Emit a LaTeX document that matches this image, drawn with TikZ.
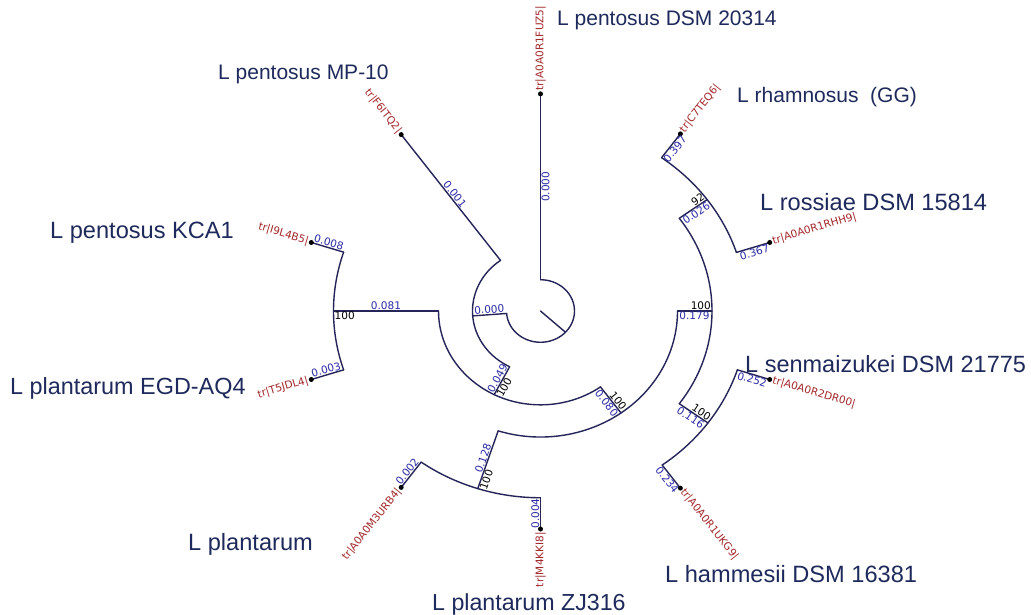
\documentclass[tikz,border=0pt]{standalone}
\usepackage{fontspec}
\setmainfont{Liberation Sans}
\newfontfamily\dejavu{DejaVu Sans}
\definecolor{navy}{HTML}{1F2A5C}
\definecolor{branch}{HTML}{25255A}
\definecolor{distblue}{HTML}{2B2BA6}
\definecolor{trred}{HTML}{A3282B}
\tikzset{
  br/.style={draw=branch, line width=1.4pt, line cap=round},
  species/.style={anchor=base west, inner sep=0pt, text=navy, font=\fontsize{#1}{#1}\selectfont},
  species/.default=23,
  dist/.style={inner sep=1pt, text=distblue, font=\dejavu\fontsize{10.5}{10.5}\selectfont},
  supp/.style={inner sep=1pt, text=black, font=\dejavu\fontsize{10.5}{10.5}\selectfont},
  trlab/.style={inner sep=3pt, text=trred, font=\dejavu\fontsize{10.5}{10.5}\selectfont},
  leafdot/.style={circle, fill=black, inner sep=0pt, minimum size=5pt},
}
\begin{document}
\begin{tikzpicture}[x=1pt,y=1pt]
\useasboundingbox (0,0) rectangle (1031,614);
\fill[white] (0,0) rectangle (1031,614);
\begin{scope}[shift={(540.5,303)}, yscale=0.92]
% ---- node coordinates
\coordinate (root) at (0,0);
\coordinate (rootpos) at (317.25:34);
\coordinate (rA) at (184.5:34);
\coordinate (rL1) at (90:34);
\coordinate (A) at (184.5:68);
\coordinate (aL2) at (126:68);
\coordinate (aB) at (243:68);
\coordinate (B) at (243:102);
\coordinate (bC) at (180:102);
\coordinate (bD) at (306:102);
\coordinate (C) at (180:207);
\coordinate (cK) at (162:207);
\coordinate (cE) at (198:207);
\coordinate (D) at (306:137);
\coordinate (dE) at (252:137);
\coordinate (dF) at (360:137);
\coordinate (E) at (252:203);
\coordinate (eP) at (234:203);
\coordinate (eZ) at (270:203);
\coordinate (F) at (360:171.5);
\coordinate (fG) at (324:171.5);
\coordinate (fH) at (396:171.5);
\coordinate (G) at (324:207);
\coordinate (gHa) at (306:207);
\coordinate (gS) at (342:207);
\coordinate (H) at (396:206);
\coordinate (hR) at (18:206);
\coordinate (hG) at (54:206);
% leaves
\coordinate (L1) at (90:236);
\coordinate (L2) at (126:237);
\coordinate (L3) at (162:241);
\coordinate (L4) at (198:241);
\coordinate (L5) at (234:237);
\coordinate (L6) at (270:237);
\coordinate (L7) at (306:238);
\coordinate (L8) at (342:241);
\coordinate (L9) at (18:241);
\coordinate (L10) at (54:238);
% ---- branches
\draw[br] (root) -- (rootpos);
\draw[br] (rA) arc[start angle=184.5, end angle=450, radius=34pt];
\draw[br] (rL1) -- (L1);
\draw[br] (rA) -- (A);
\draw[br] (aL2) arc[start angle=126, end angle=243, radius=68pt];
\draw[br] (aL2) -- (L2);
\draw[br] (aB) -- (B);
\draw[br] (bC) arc[start angle=180, end angle=306, radius=102pt];
\draw[br] (bC) -- (C);
\draw[br] (cK) arc[start angle=162, end angle=198, radius=207pt];
\draw[br] (cK) -- (L3);
\draw[br] (cE) -- (L4);
\draw[br] (bD) -- (D);
\draw[br] (dE) arc[start angle=252, end angle=360, radius=137pt];
\draw[br] (dE) -- (E);
\draw[br] (eP) arc[start angle=234, end angle=270, radius=203pt];
\draw[br] (eP) -- (L5);
\draw[br] (eZ) -- (L6);
\draw[br] (dF) -- (F);
\draw[br] (fG) arc[start angle=324, end angle=396, radius=171.5pt];
\draw[br] (fG) -- (G);
\draw[br] (gHa) arc[start angle=306, end angle=342, radius=207pt];
\draw[br] (gHa) -- (L7);
\draw[br] (gS) -- (L8);
\draw[br] (fH) -- (H);
\draw[br] (hR) arc[start angle=18, end angle=54, radius=206pt];
\draw[br] (hR) -- (L9);
\draw[br] (hG) -- (L10);
% ---- leaf dots
\foreach \l in {L1,L2,L3,L4,L5,L6,L7,L8,L9,L10}{\node[leafdot] at (\l) {};}
% ---- tr labels
\node[trlab, anchor=west, rotate=90]    at (L1)  {tr|A0A0R1FUZ5|};
\node[trlab, anchor=east, rotate=-51.7] at (L2)  {tr|F6ITQ2|};
\node[trlab, anchor=east, rotate=-16.6] at (L3)  {tr|I9L4B5|};
\node[trlab, anchor=east, rotate=16.6]  at (L4)  {tr|T5JDL4|};
\node[trlab, anchor=east, rotate=51.7]  at (L5)  {tr|A0A0M3URB4|};
\node[trlab, anchor=east, rotate=90]    at (L6)  {tr|M4KKI8|};
\node[trlab, anchor=west, rotate=-51.7] at (L7)  {tr|A0A0R1UKG9|};
\node[trlab, anchor=west, rotate=-16.6] at (L8)  {tr|A0A0R2DR00|};
\node[trlab, anchor=west, rotate=16.6]  at (L9)  {tr|A0A0R1RHH9|};
\node[trlab, anchor=west, rotate=51.7]  at (L10) {tr|C7TEQ6|};
% ---- distance labels (right side: below; left side: above)
\node[dist, anchor=north, rotate=90]    at (90:135)    {0.000};
\node[dist, anchor=north, rotate=51.7]  at (54:222)    {0.397};
\node[dist, anchor=north, rotate=16.6]  at (18:223.5)  {0.367};
\node[dist, anchor=north, rotate=-16.6] at (342:224)   {0.252};
\node[dist, anchor=north, rotate=-51.7] at (306:222.5) {0.234};
\node[dist, anchor=north, rotate=-51.7] at (306:119.5) {0.080};
\node[dist, anchor=north, rotate=0]     at (0:154)     {0.179};
\node[dist, anchor=north, rotate=-33.8] at (324:189)   {0.116};
\node[dist, anchor=north, rotate=33.8]  at (36:189)    {0.026};
\node[dist, anchor=south, rotate=-51.7] at (126:152.5) {0.001};
\node[dist, anchor=south, rotate=-16.6] at (162:224)   {0.008};
\node[dist, anchor=south, rotate=16.6]  at (198:224)   {0.003};
\node[dist, anchor=south, rotate=51.7]  at (234:220)   {0.002};
\node[dist, anchor=south, rotate=90]    at (270:220)   {0.004};
\node[dist, anchor=south, rotate=4.14]  at (184.5:51)  {0.000};
\node[dist, anchor=south, rotate=61]    at (243:85)    {0.049};
\node[dist, anchor=south, rotate=0]     at (180:154.5) {0.081};
\node[dist, anchor=south, rotate=70.55] at (252:170)   {0.128};
% ---- support labels
\node[supp, anchor=south east, rotate=-51.7] at (D) {100};
\node[supp, anchor=south east, rotate=0]     at (F) {100};
\node[supp, anchor=south east, rotate=-33.8] at (G) {100};
\node[supp, anchor=south east, rotate=33.8]  at (H) {92};
\node[supp, anchor=north west, rotate=61]    at (B) {100};
\node[supp, anchor=north west, rotate=0]     at (C) {100};
\node[supp, anchor=north west, rotate=70.55] at (E) {100};
\end{scope}
% ---- species names
\node[species=21]   (s1)  at (557,588) {L pentosus DSM 20314};
\node[species=21]   (s2)  at (218,534) {L pentosus MP-10};
\node[species=21]   (s3)  at (737,511) {L rhamnosus~~(GG)};
\node[species=23.6] (s4)  at (760,403) {L rossiae DSM 15814};
\node[species=23.6] (s5)  at (50,375)  {L pentosus KCA1};
\node[species=23.5] (s6)  at (745,242) {L senmaizukei DSM 21775};
\node[species=23.4] (s7)  at (10,220)  {L plantarum EGD-AQ4};
\node[species=23.6] (s8)  at (188,64)  {L plantarum};
\node[species=23.6] (s9)  at (665,32)  {L hammesii DSM 16381};
\node[species=23.2] (s10) at (432,4)   {L plantarum ZJ316};
\end{tikzpicture}
\end{document}
